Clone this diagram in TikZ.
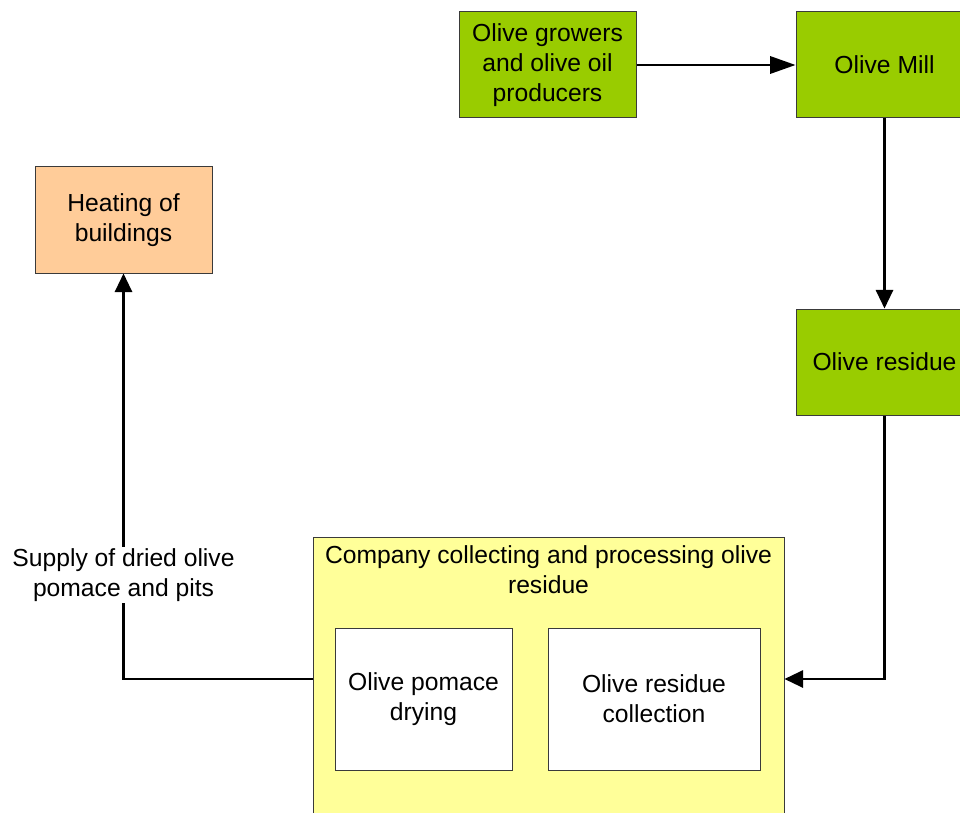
\documentclass[tikz,border=0pt]{standalone}
\usepackage{fontspec}
\setmainfont{Liberation Sans}
\usetikzlibrary{arrows.meta}
\definecolor{olivegreen}{HTML}{99CC00}
\definecolor{heatorange}{HTML}{FFCC99}
\definecolor{paleyellow}{HTML}{FFFF99}
\definecolor{edgegray}{HTML}{3A3A3A}
\tikzset{
  box/.style={draw=edgegray, line width=0.75pt, align=center, inner sep=2pt,
    font=\fontsize{18.5}{22.5}\selectfont},
  flow/.style={line width=1.6pt, -{Triangle[length=14pt,width=13pt]}}
}
\begin{document}
\begin{tikzpicture}[x=0.75pt,y=-0.75pt]
\useasboundingbox (0,0) rectangle (960,813);
\clip (0,0) rectangle (960,813);
\node (growers) [box, fill=olivegreen, minimum width=132.75pt, minimum height=79.5pt] at (547.5,65) {Olive growers\\and olive oil\\producers};
\node (mill) [box, fill=olivegreen, minimum width=132.75pt, minimum height=79.5pt] at (884.5,65) {Olive Mill};
\node (residue) [box, fill=olivegreen, minimum width=132.75pt, minimum height=79.5pt] at (884.5,362) {Olive residue};
\node (heating) [box, fill=heatorange, minimum width=132.75pt, minimum height=79.5pt] at (123.5,220) {Heating of\\buildings};
\node (company) [box, fill=paleyellow, minimum width=353.25pt, minimum height=213pt] at (548.5,679) {};
\node (companytitle) [box, draw=none, anchor=north, yshift=-4.5pt] at (company.north) {Company collecting and processing olive\\residue};
\node (drying) [box, fill=white, minimum width=132.75pt, minimum height=106.5pt] at (423.5,699) {Olive pomace\\drying};
\node (collection) [box, fill=white, minimum width=159pt, minimum height=106.5pt] at (654,699) {Olive residue\\collection};
\draw [flow, -{Triangle[length=19pt,width=13pt]}] (growers.east) -- (mill.west);
\draw [flow] (mill) -- (residue);
\draw [flow] (residue.south) |- (company.east);
\draw [flow] (company.west) -| (heating.south)
  node (supply) [pos=0.628, fill=white, align=center, inner sep=1pt,
    font=\fontsize{18.5}{22.5}\selectfont] {Supply of dried olive\\pomace and pits};
\end{tikzpicture}
\end{document}
